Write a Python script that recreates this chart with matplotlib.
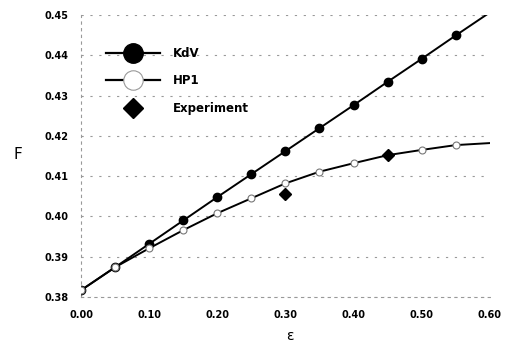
import matplotlib
matplotlib.use("Agg")
import matplotlib.pyplot as plt

# ===== data
eps_kdv = [0.00, 0.05, 0.10, 0.15, 0.20, 0.25, 0.30, 0.35, 0.40, 0.45, 0.50, 0.55]
f_kdv = [0.3817, 0.3874, 0.3932, 0.3990, 0.4048, 0.4105, 0.4162, 0.4219, 0.4276, 0.4334, 0.4391, 0.4449]
kdv_end = (0.60, 0.4506)

eps_hp1 = [0.00, 0.05, 0.10, 0.15, 0.20, 0.25, 0.30, 0.35, 0.40, 0.45, 0.50, 0.55]
f_hp1 = [0.3817, 0.3874, 0.3921, 0.3966, 0.4008, 0.4045, 0.4082, 0.4111, 0.4132, 0.4152, 0.4165, 0.4177]
hp1_end = (0.60, 0.4182)

eps_exp = [0.30, 0.45]
f_exp = [0.4056, 0.4152]

xticks = [0.0, 0.1, 0.2, 0.3, 0.4, 0.5, 0.6]
yticks = [0.38, 0.39, 0.40, 0.41, 0.42, 0.43, 0.44, 0.45]

fig = plt.figure(figsize=(5.07, 3.47), dpi=100)
ax = fig.add_axes([0.160, 0.144, 0.806, 0.813])

# lines with markers
ax.plot(eps_kdv + [kdv_end[0]], f_kdv + [kdv_end[1]], "k-", lw=1.4, zorder=2)
ax.plot(eps_kdv, f_kdv, "o", color="k", ms=6, ls="none", zorder=3)
ax.plot(eps_hp1 + [hp1_end[0]], f_hp1 + [hp1_end[1]], "k-", lw=1.4, zorder=2)
ax.plot(eps_hp1, f_hp1, "o", mfc="white", mec="#777777", mew=0.8, ms=5, ls="none", zorder=3)
ax.plot(eps_exp, f_exp, "D", color="k", ms=6.5, ls="none", zorder=4)

# legend proxies
h1, = ax.plot([], [], "k-", lw=1.6, marker="o", ms=14, mfc="k", mec="k")
h2, = ax.plot([], [], "k-", lw=1.6, marker="o", ms=14, mfc="white", mec="#999999", mew=0.8)
h3, = ax.plot([], [], ls="none", marker="D", ms=10, color="k")
leg = ax.legend([h1, h2, h3], ["KdV", "HP1", "Experiment"], loc="upper left",
                bbox_to_anchor=(0.035, 0.925), frameon=False, handlelength=4.6,
                labelspacing=1.25, handletextpad=1.1,
                prop={"weight": "bold", "size": 8.5})

ax.set_xlim(0, 0.6)
ax.set_ylim(0.38, 0.45)
ax.set_xticks(xticks)
ax.set_yticks(yticks)
ax.set_xticklabels(["%.2f" % v for v in xticks], fontsize=7, fontweight="bold")
ax.set_yticklabels(["%.2f" % v for v in yticks], fontsize=7, fontweight="bold")
ax.tick_params(length=0, pad=9)

ax.grid(axis="y", ls=(0, (2, 6)), color="#999999", lw=0.8)
for s in ["top", "right"]:
    ax.spines[s].set_visible(False)
for s in ["left", "bottom"]:
    ax.spines[s].set_linestyle((0, (2, 4)))
    ax.spines[s].set_color("#999999")
    ax.spines[s].set_linewidth(0.8)

ax.set_xlabel("ε", fontsize=10)
ax.xaxis.set_label_coords(0.51, -0.115)
ax.set_ylabel("F", fontsize=11, rotation=0)
ax.yaxis.set_label_coords(-0.155, 0.48)

fig.savefig("out.png", dpi=100)
